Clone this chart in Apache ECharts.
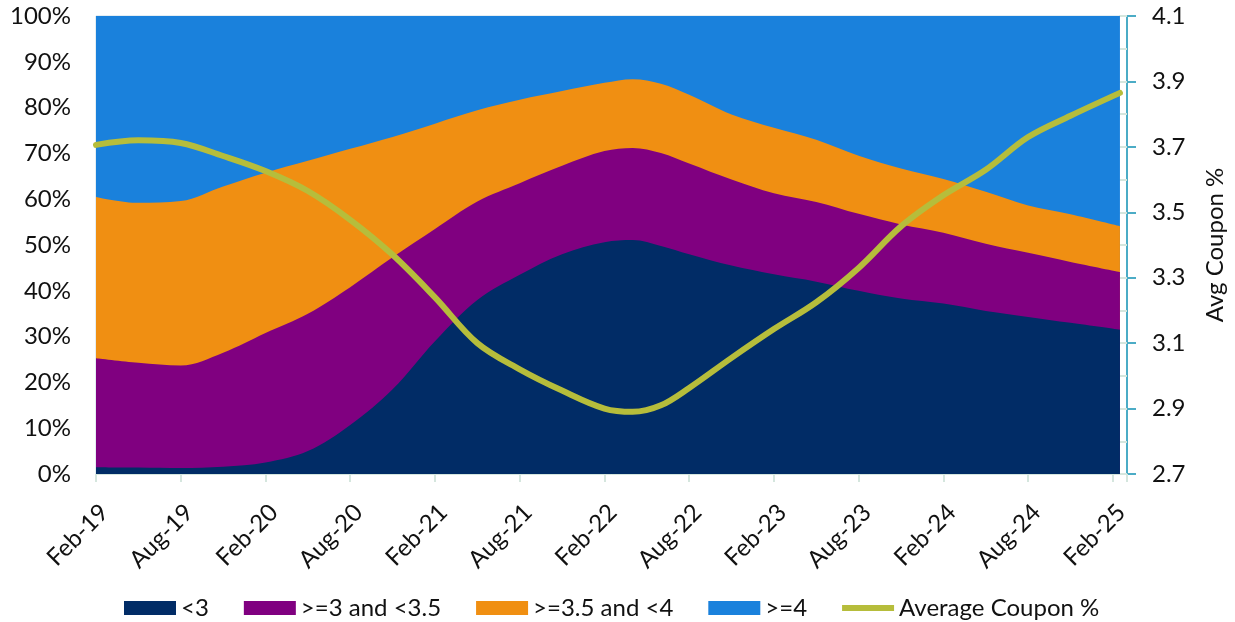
<!DOCTYPE html>
<html>
<head>
<meta charset="utf-8">
<title>Coupon distribution</title>
<script src="https://cdn.jsdelivr.net/npm/echarts@6/dist/echarts.min.js"></script>
<style>
html,body{margin:0;padding:0;background:#fff}
#main{width:1235px;height:622px}
</style>
</head>
<body>
<div id="main"></div>
<script>
// months since Feb-19 for each point (mostly quarterly, denser round the 2022 peak)
var months = [0,3,6,9,12,15,18,21,24,27,30,33,36,38,40,42,45,48,51,54,57,60,63,66,69,72.5];
var tickLabels = ['Feb-19','Aug-19','Feb-20','Aug-20','Feb-21','Aug-21','Feb-22','Aug-22','Feb-23','Aug-23','Feb-24','Aug-24','Feb-25'];

// share of balance by coupon bucket, %
var lt3    = [1.5,1.4,1.3,1.6,2.5,5,10.7,18.5,29,38,43.5,48,50.6,51.1,49.8,48,45.5,43.6,42,40,38.3,37.2,35.6,34.3,33,31.5];
var b3to35 = [23.8,22.9,22.4,24.9,28.3,30,30.1,28.8,24.5,21.5,20,19.3,19.9,20.1,20.3,19.8,18.8,17.7,17.4,16.8,16.2,15.5,14.7,14,13.3,12.6];
var b35to4 = [35.2,34.9,35.9,36.3,35,33.4,30.2,26.3,23,19.9,18.2,16.3,14.9,15,15.1,15,14.2,14.3,13.6,12.7,12.2,11.7,11.3,10.3,10.4,10];
var ge4    = [39.5,40.8,40.4,37.2,34.2,31.6,29,26.4,23.5,20.6,18.3,16.4,14.6,13.8,14.8,17.2,21.5,24.4,27,30.5,33.3,35.6,38.4,41.4,43.3,45.9];
// average coupon, %
var avgCoupon = [3.706,3.72,3.712,3.672,3.626,3.565,3.477,3.37,3.24,3.10,3.02,2.955,2.90,2.89,2.91,2.963,3.055,3.143,3.225,3.33,3.457,3.552,3.63,3.73,3.795,3.865];

var couponMin = 2.7; // right axis starts here, ticks every 0.2

var font = 'Lato';
var bands = [lt3, b3to35, b35to4, ge4];
var names = ['<3', '>=3 and <3.5', '>=3.5 and <4', '>=4'];
var colors = ['#012c66', '#800080', '#f08f12', '#1a81dc'];

// both axes are value axes, so stack by hand: running total of the bands,
// each drawn down to 0, the top band underneath
function cumulative(upTo){
    return months.map(function(m,i){
        var s = 0;
        for(var k=0;k<=upTo;k++) s += bands[k][i];
        return [m, +s.toFixed(2)];
    });
}

var series = [];
for(var k=bands.length-1;k>=0;k--){
    series.push({
        name: names[k],
        type: 'line',
        smooth: 0.35,
        symbol: 'none',
        z: 2,
        lineStyle: {width: 0},
        areaStyle: {color: colors[k], opacity: 1},
        itemStyle: {color: colors[k]},
        data: cumulative(k)
    });
}
series.push({
    name: 'Average Coupon %',
    type: 'line',
    yAxisIndex: 1,
    smooth: 0.35,
    symbol: 'none',
    z: 5,
    lineStyle: {width: 6, color: '#b6bd3b', cap: 'round'},
    itemStyle: {color: '#b6bd3b'},
    data: avgCoupon.map(function(v,i){ return [months[i], +(v - couponMin).toFixed(3)]; })
});

var myChart = echarts.init(document.getElementById('main'));
myChart.setOption({
    animation: false,
    textStyle: {fontFamily: font},
    grid: {
        left: 96, right: 107, top: 16, bottom: 148,
        show: true, borderColor: '#c9dce6', borderWidth: 1
    },
    legend: {
        top: 591,
        left: 119,
        itemWidth: 52,
        itemHeight: 14,
        itemGap: 35,
        textStyle: {fontFamily: font, fontSize: 24, color: '#111'},
        data: [
            {name: '<3', icon: 'rect'},
            {name: '>=3 and <3.5', icon: 'rect'},
            {name: '>=3.5 and <4', icon: 'rect'},
            {name: '>=4', icon: 'rect'},
            {name: 'Average Coupon %', icon: 'path://M0,0L0.1,0L0,0.1Z M0,4L52,4L52,10L0,10Z M52,14L51.9,14L52,13.9Z'}
        ]
    },
    xAxis: {
        type: 'value',
        min: 0,
        max: 73,
        interval: 6,
        axisLine: {lineStyle: {color: '#d5e6de'}},
        axisTick: {show: true, length: 8, lineStyle: {color: '#d5e6de', width: 2}},
        splitLine: {show: false},
        axisLabel: {
            rotate: 45,
            margin: 26,
            verticalAlign: 'top',
            fontSize: 24,
            fontFamily: font,
            color: '#111',
            formatter: function(v){
                return v % 6 === 0 ? tickLabels[v/6] : '';
            }
        }
    },
    yAxis: [
        {
            type: 'value',
            min: 0, max: 100, interval: 10,
            axisLine: {show: false},
            axisTick: {show: false},
            splitLine: {show: false},
            axisLabel: {formatter: '{value}%', fontSize: 24, fontFamily: font, color: '#111', margin: 25}
        },
        {
            type: 'value',
            position: 'right',
            min: 0, max: 1.4, interval: 0.2,
            name: 'Avg Coupon %',
            nameLocation: 'middle',
            nameRotate: 90,
            nameGap: 76,
            nameTextStyle: {fontSize: 24, fontFamily: font, color: '#111'},
            axisLine: {show: true, lineStyle: {color: '#4bacc6', width: 2}},
            axisTick: {show: true, length: 9, lineStyle: {color: '#4bacc6', width: 2}},
            splitLine: {show: false},
            axisLabel: {
                fontSize: 24, fontFamily: font, color: '#111', margin: 25,
                formatter: function(v){ return (v + couponMin).toFixed(1); }
            }
        },
        {
            // minor ticks on the inner side of the right axis
            type: 'value',
            position: 'right',
            min: 0, max: 1.4, interval: 0.1,
            axisLine: {show: false},
            axisTick: {show: true, inside: true, length: 8, lineStyle: {color: '#d5e6de', width: 2}},
            axisLabel: {show: false},
            splitLine: {show: false}
        }
    ],
    series: series
});
</script>
</body>
</html>
